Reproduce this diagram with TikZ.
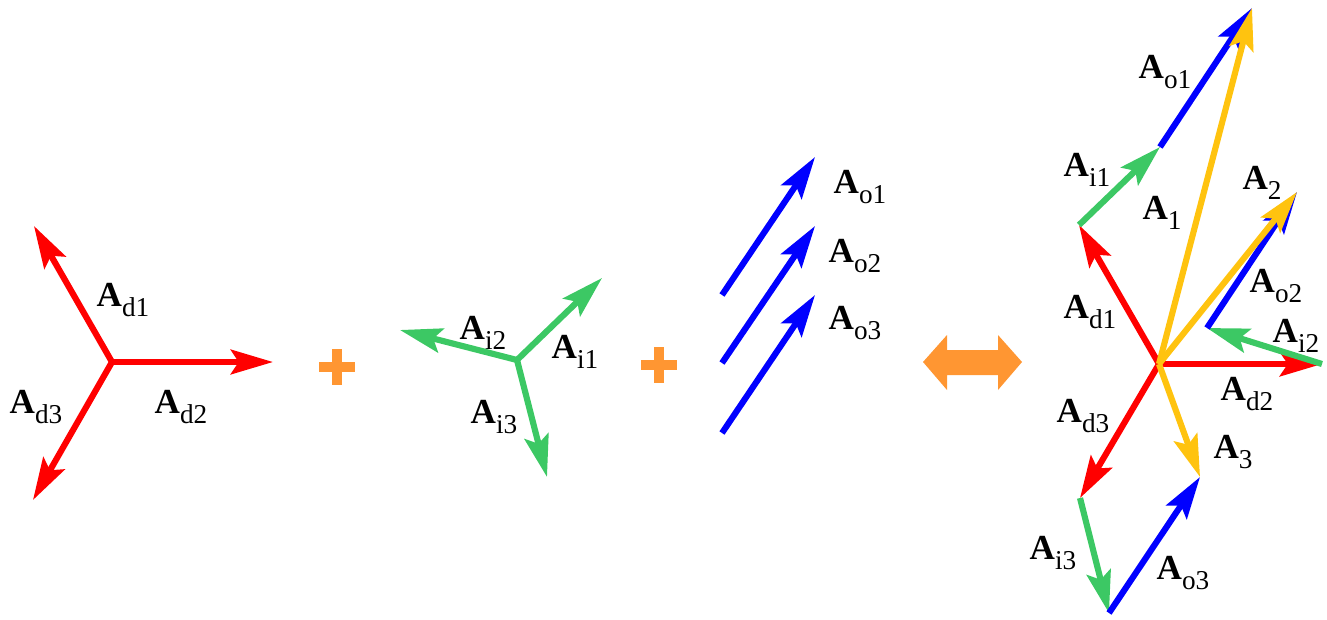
\documentclass[tikz,border=0pt]{standalone}
\usepackage{fontspec}
\setmainfont{Liberation Serif}
\usetikzlibrary{arrows.meta}
\definecolor{vred}{RGB}{255,0,0}
\definecolor{vgreen}{RGB}{60,200,100}
\definecolor{vblue}{RGB}{0,0,255}
\definecolor{vyellow}{RGB}{255,195,15}
\definecolor{vorange}{RGB}{255,150,50}
\newcommand{\vecA}[1]{\fontsize{20}{24}\selectfont\textbf{A}\raisebox{-5.5pt}{\fontsize{15.5}{18}\selectfont #1}}
\begin{document}
\begin{tikzpicture}[x=0.02cm, y=-0.02cm,
    vec/.style={line width=3.5pt, -{Stealth[length=24pt, width=14pt, inset=4.5pt]}},
    red/.style={vec, vred},
    grn/.style={vec, vgreen},
    blu/.style={vec, vblue},
    yel/.style={vec, vyellow},
    lbl/.style={inner sep=0pt, anchor=center},
    plus/.style={vorange, line width=5.5pt},
  ]
    \useasboundingbox (0,0) rectangle (1327,619);
    \coordinate (dc) at (112,362);   \coordinate (d1) at (34,226);   \coordinate (d2) at (273,362);   \coordinate (d3) at (33,500);
    \coordinate (ic) at (517,360);   \coordinate (i1) at (602,278);  \coordinate (i2) at (400,330);   \coordinate (i3) at (547,477);
    \coordinate (o1s) at (722,295);  \coordinate (o1e) at (815,157);
    \coordinate (o2s) at (722,363);  \coordinate (o2e) at (815,226);
    \coordinate (o3s) at (722,433);  \coordinate (o3e) at (815,295);
    \coordinate (O) at (1159,364);   \coordinate (Rd1) at (1079,225); \coordinate (Rd2) at (1322,364); \coordinate (Rd3) at (1080,498);
    \coordinate (Ri1) at (1160,147); \coordinate (Ro1) at (1252,8);
    \coordinate (Ro2s) at (1207,328); \coordinate (Ro2) at (1297,192);
    \coordinate (Ri3) at (1109,613); \coordinate (Ro3) at (1200,477);
    \draw[red] (dc) -- (d1);  \draw[red] (dc) -- (d2);  \draw[red] (dc) -- (d3);
    \node[lbl] (ld1) at (123,300) {\vecA{d1}};
    \node[lbl] (ld2) at (181,407) {\vecA{d2}};
    \node[lbl] (ld3) at (36,407)  {\vecA{d3}};
    \draw[plus] (319,367) -- (355,367);  \draw[plus] (337,349) -- (337,385);
    \draw[grn] (ic) -- (i1);  \draw[grn] (ic) -- (i2);  \draw[grn] (ic) -- (i3);
    \node[lbl] (li2) at (483,333) {\vecA{i2}};
    \node[lbl] (li1) at (575,352) {\vecA{i1}};
    \node[lbl] (li3) at (494,417) {\vecA{i3}};
    \draw[plus] (641,365) -- (677,365);  \draw[plus] (659,347) -- (659,383);
    \draw[blu] (o1s) -- (o1e);  \draw[blu] (o2s) -- (o2e);  \draw[blu] (o3s) -- (o3e);
    \node[lbl] (lo1) at (860,187) {\vecA{o1}};
    \node[lbl] (lo2) at (855,256) {\vecA{o2}};
    \node[lbl] (lo3) at (855,323) {\vecA{o3}};
    \fill[vorange] (923,362) -- (947,335) -- (947,350) -- (998,350) -- (998,335) -- (1022,362)
      -- (998,390) -- (998,375) -- (947,375) -- (947,390) -- cycle;
    \draw[red] (O) -- (Rd1);  \draw[red] (O) -- (Rd2);  \draw[red] (O) -- (Rd3);
    \draw[grn] (Rd1) -- (Ri1);  \draw[grn] (Rd2) -- (Ro2s);  \draw[grn] (Rd3) -- (Ri3);
    \draw[blu] (Ri1) -- (Ro1);  \draw[blu] (Ro2s) -- (Ro2);  \draw[blu] (Ri3) -- (Ro3);
    \draw[yel] (O) -- (Ro1);  \draw[yel] (O) -- (Ro2);  \draw[yel] (O) -- (Ro3);
    \node[lbl] (Rlo1) at (1165,72)  {\vecA{o1}};
    \node[lbl] (Rli1) at (1087,170) {\vecA{i1}};
    \node[lbl] (Rl1)  at (1162,213) {\vecA{1}};
    \node[lbl] (Rl2)  at (1262,183) {\vecA{2}};
    \node[lbl] (Rlo2) at (1276,286) {\vecA{o2}};
    \node[lbl] (Rli2) at (1296,336) {\vecA{i2}};
    \node[lbl] (Rld1) at (1090,312) {\vecA{d1}};
    \node[lbl] (Rld2) at (1247,394) {\vecA{d2}};
    \node[lbl] (Rld3) at (1083,416) {\vecA{d3}};
    \node[lbl] (Rl3)  at (1233,452) {\vecA{3}};
    \node[lbl] (Rli3) at (1053,553) {\vecA{i3}};
    \node[lbl] (Rlo3) at (1183,573) {\vecA{o3}};
  \end{tikzpicture}
\end{document}
